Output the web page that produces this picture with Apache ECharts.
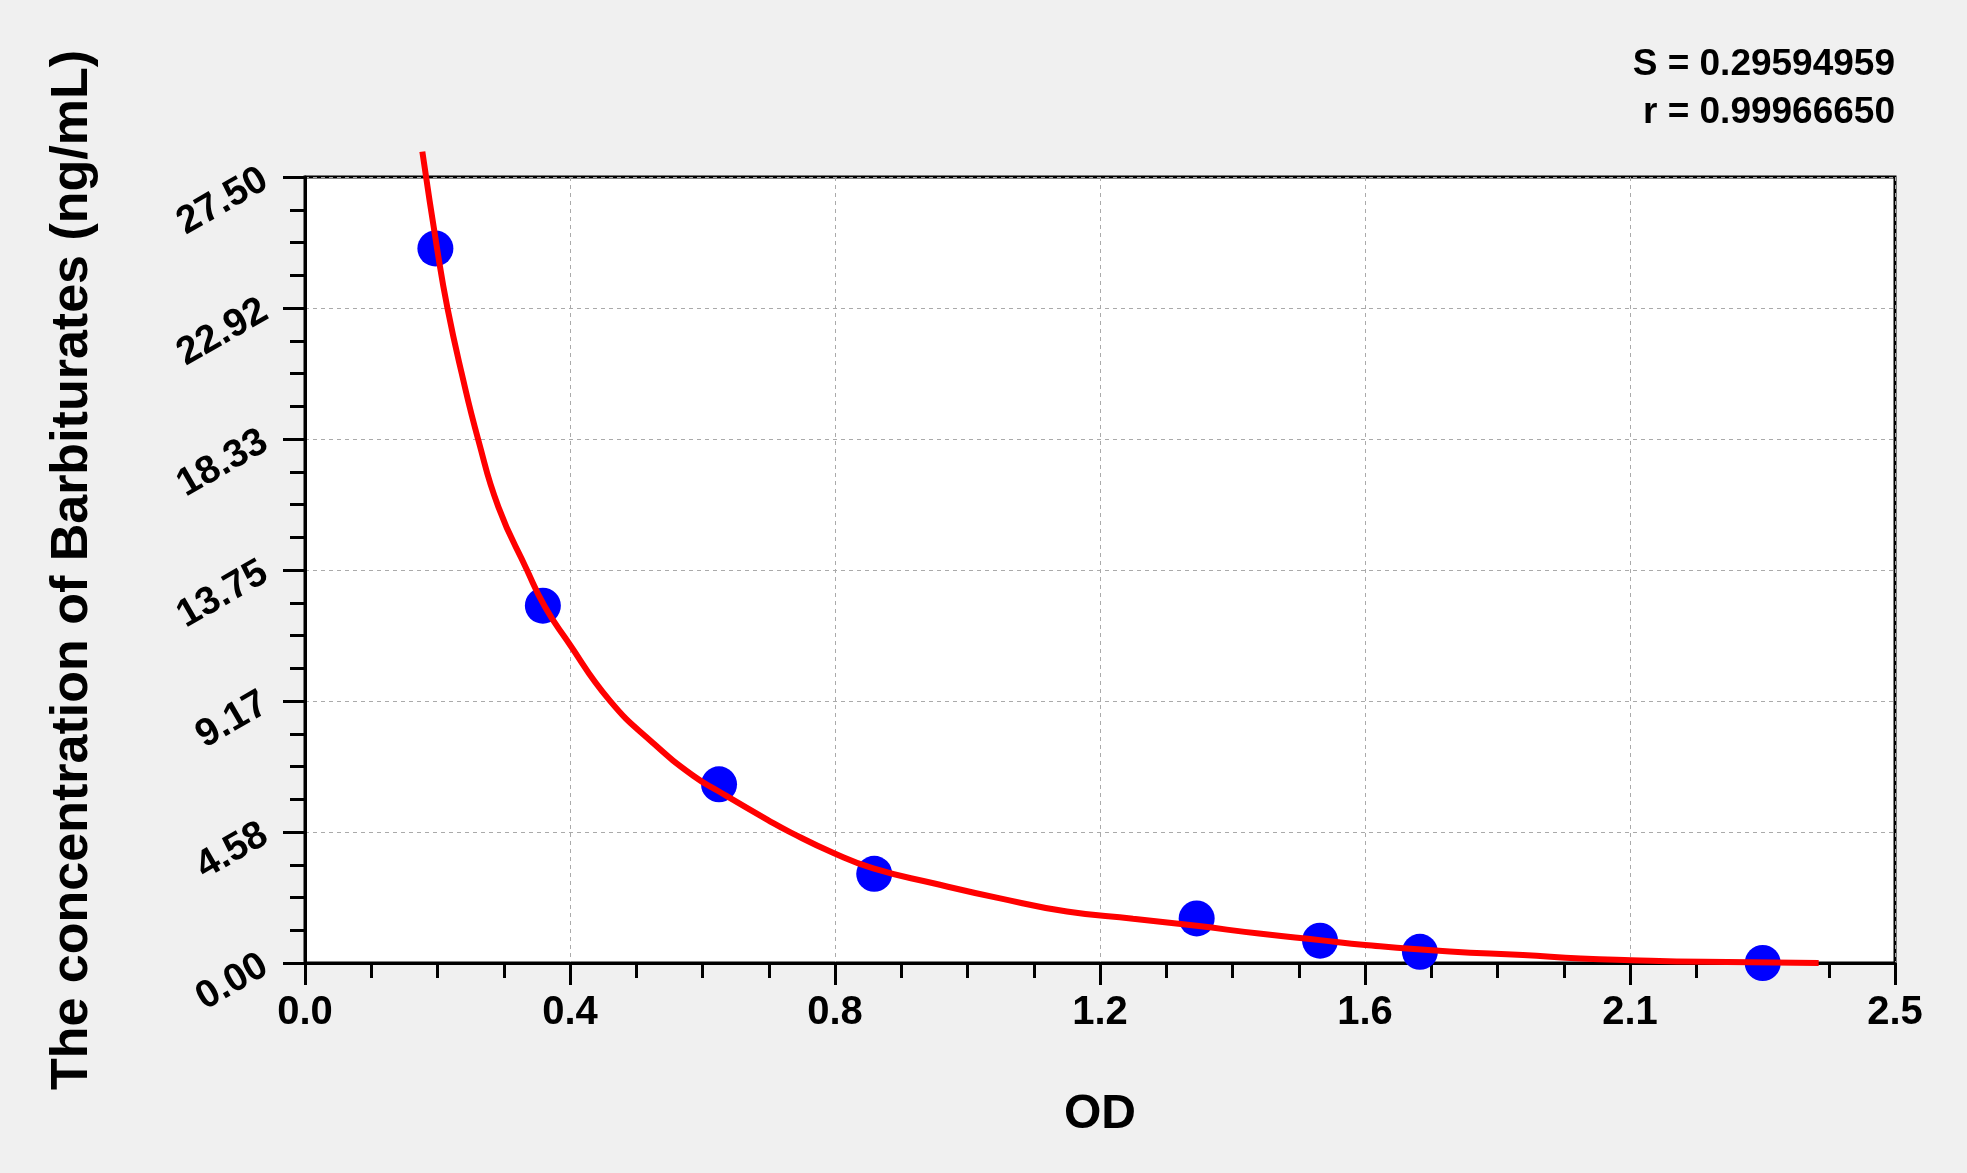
<!DOCTYPE html>
<html>
<head>
<meta charset="utf-8">
<script src="https://cdn.jsdelivr.net/npm/echarts@6/dist/echarts.min.js"></script>
<style>
  html, body { margin: 0; padding: 0; background: #f0f0f0; }
  #chart { width: 1967px; height: 1173px; }
</style>
</head>
<body>
<div id="chart"></div>
<script>
var myChart = echarts.init(document.getElementById('chart'));

// 标准点 (OD, 浓度)
var odValues = [0.205, 0.374, 0.651, 0.895, 1.402, 1.596, 1.753, 2.292];
var concValues = [25, 12.5, 6.25, 3.12, 1.56, 0.78, 0.39, 0];

// 拟合曲线上读取的点
var curveOd = [0.1845, 0.208, 0.224, 0.2464, 0.2725, 0.304, 0.349, 0.377, 0.4115, 0.4796,
  0.5476, 0.6105, 0.651, 0.728, 0.7626, 0.831, 0.8935, 0.988, 1.093, 1.198,
  1.302, 1.402, 1.5, 1.596, 1.667, 1.8, 1.915, 2.006, 2.085, 2.2, 2.38];
var curveConc = [28.39, 24.95, 22.91, 20.63, 18.30, 15.96, 13.75, 12.47, 11.30, 9.17,
  7.69, 6.55, 6.0, 5.0, 4.58, 3.85, 3.31, 2.79, 2.26, 1.80,
  1.55, 1.30, 1.03, 0.80, 0.63, 0.40, 0.28, 0.16, 0.10, 0.04, 0.0];

// 刻度标签
var xTickLabels = ['0.0', '0.4', '0.8', '1.2', '1.6', '2.1', '2.5'];
var yTickLabels = ['0.00', '4.58', '9.17', '13.75', '18.33', '22.92', '27.50'];

var xMax = 2.5, yMax = 27.5;
var xStep = xMax / 6, yStep = yMax / 6;
var font = "'Liberation Sans', Arial, sans-serif";

var option = {
    backgroundColor: '#f0f0f0',
    animation: false,
    grid: {
        left: 305, right: 72, top: 177, bottom: 210,
        show: true,
        backgroundColor: '#fff',
        borderColor: '#000',
        borderWidth: 3
    },
    graphic: [
        {
            type: 'text', right: 72, top: 46,
            style: { text: 'S = 0.29594959', font: 'bold 37px ' + font, fill: '#000', textAlign: 'right' }
        },
        {
            type: 'text', right: 72, top: 94,
            style: { text: 'r = 0.99966650', font: 'bold 37px ' + font, fill: '#000', textAlign: 'right' }
        }
    ],
    xAxis: {
        type: 'value',
        min: 0, max: xMax, interval: xStep,
        name: 'OD',
        nameLocation: 'middle',
        nameGap: 128,
        nameTextStyle: { fontFamily: font, fontWeight: 'bold', fontSize: 48, color: '#000' },
        axisLine: { lineStyle: { color: '#000', width: 3 } },
        axisTick: { length: 22, lineStyle: { color: '#000', width: 3 } },
        minorTick: { show: true, splitNumber: 4, length: 15, lineStyle: { color: '#000', width: 3 } },
        axisLabel: {
            margin: 30,
            fontFamily: font, fontWeight: 'bold', fontSize: 40, color: '#000',
            formatter: function (v) { return xTickLabels[Math.round(v / xStep)]; }
        },
        splitLine: { show: true, lineStyle: { color: '#aaa', width: 1, type: [4, 4] } }
    },
    yAxis: {
        type: 'value',
        min: 0, max: yMax, interval: yStep,
        name: 'The concentration of Barbiturates (ng/mL)',
        nameLocation: 'middle',
        nameGap: 206,
        nameTextStyle: { fontFamily: font, fontWeight: 'bold', fontSize: 52, color: '#000' },
        axisLine: { lineStyle: { color: '#000', width: 3 } },
        axisTick: { length: 22, lineStyle: { color: '#000', width: 3 } },
        minorTick: { show: true, splitNumber: 4, length: 15, lineStyle: { color: '#000', width: 3 } },
        axisLabel: {
            margin: 40, rotate: 30,
            fontFamily: font, fontWeight: 'bold', fontSize: 39, color: '#000',
            formatter: function (v) { return yTickLabels[Math.round(v / yStep)]; }
        },
        splitLine: { show: true, lineStyle: { color: '#aaa', width: 1, type: [4, 4] } }
    },
    series: [
        {
            type: 'scatter',
            symbolSize: 36,
            itemStyle: { color: '#0000ff', opacity: 1 },
            data: odValues.map(function (x, i) { return [x, concValues[i]]; })
        },
        {
            type: 'line',
            clip: false,
            showSymbol: false,
            smooth: 0.5,
            lineStyle: { color: '#ff0000', width: 6 },
            data: curveOd.map(function (x, i) { return [x, curveConc[i]]; })
        }
    ]
};

myChart.setOption(option);
</script>
</body>
</html>
